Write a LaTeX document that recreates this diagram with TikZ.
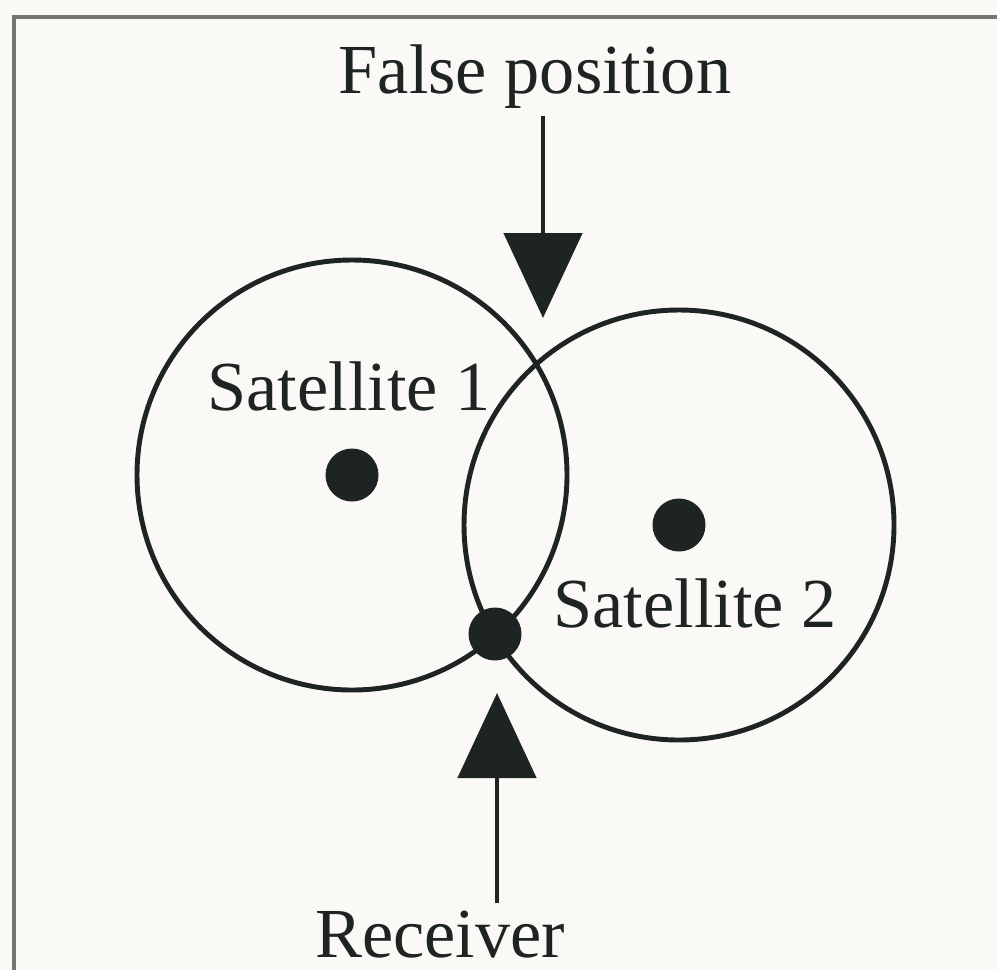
\documentclass[tikz,border=0pt]{standalone}
\usepackage{fontspec}
\setmainfont{Liberation Serif}
\usetikzlibrary{arrows.meta}
\definecolor{paper}{RGB}{250,249,245}
\definecolor{ink}{RGB}{30,36,36}
\definecolor{framegray}{RGB}{115,115,115}
\tikzset{
  sat/.style={circle,fill=ink,minimum size=5.3mm,inner sep=0pt},
  ring/.style={draw=ink,line width=1.4pt},
  lbl/.style={anchor=base,inner sep=2pt,text=ink,font=\fontsize{20pt}{24pt}\selectfont},
  pointer/.style={draw=ink,line width=1.4pt,-{Triangle[length=8.5mm,width=7.8mm]}},
}

\begin{document}
\begin{tikzpicture}
\fill[paper] (0,0) rectangle (9.97,-9.70);
\useasboundingbox (0,0) rectangle (9.97,-9.70);
\draw[framegray,line width=1pt] (9.97,-0.17) -- (0.14,-0.17) -- (0.14,-9.70);
\node[sat] (s1) at (3.52,-4.75) {};
\node[sat] (s2) at (6.79,-5.25) {};
\node[sat] (rx) at (4.95,-6.34) {};
\draw[ring] (s1) circle[radius=2.15cm];
\draw[ring] (s2) circle[radius=2.15cm];
\node[lbl] (fpl) at (5.35,-0.93) {False position};
\node[lbl] (s1l) at (3.49,-4.10) {Satellite 1};
\node[lbl] (s2l) at (6.95,-6.27) {Satellite 2};
\node[lbl] (rxl) at (4.40,-9.57) {Receiver};
\coordinate (fptip) at (5.43,-3.18);
\coordinate (rxtip) at (4.97,-6.93);
\draw[pointer] (fptip |- fpl.south) -- (fptip);
\draw[pointer] (rxtip |- rxl.north) -- (rxtip);
\end{tikzpicture}
\end{document}
